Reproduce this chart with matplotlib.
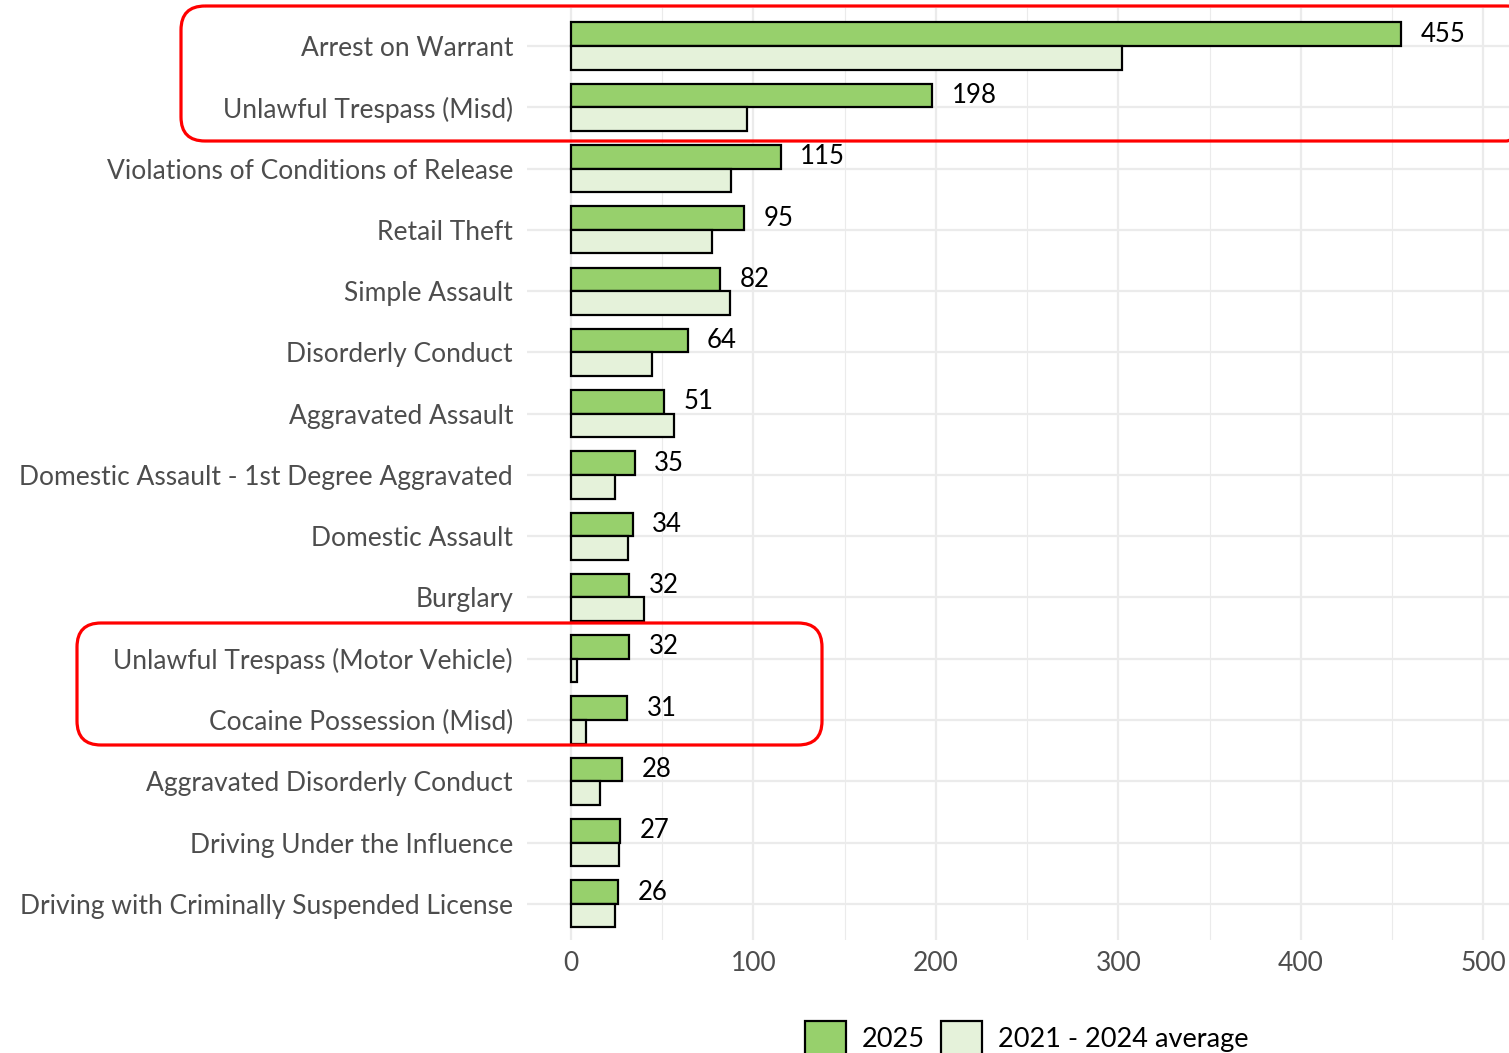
import numpy as np
import matplotlib
matplotlib.use("Agg")
import matplotlib.pyplot as plt
from matplotlib.patches import FancyBboxPatch, Patch

plt.rcParams['font.family'] = ['Lato', 'DejaVu Sans']

# Offence categories, top to bottom
categories = [
    "Arrest on Warrant",
    "Unlawful Trespass (Misd)",
    "Violations of Conditions of Release",
    "Retail Theft",
    "Simple Assault",
    "Disorderly Conduct",
    "Aggravated Assault",
    "Domestic Assault - 1st Degree Aggravated",
    "Domestic Assault",
    "Burglary",
    "Unlawful Trespass (Motor Vehicle)",
    "Cocaine Possession (Misd)",
    "Aggravated Disorderly Conduct",
    "Driving Under the Influence",
    "Driving with Criminally Suspended License",
]
count_2025 = [455, 198, 115, 95, 82, 64, 51, 35, 34, 32, 32, 31, 28, 27, 26]
avg_2021_2024 = [302, 96.5, 88, 77.25, 87, 44.25, 56.5, 24, 31.25, 40, 3.25, 8.25, 16, 26.25, 24]
x_ticks = [0, 100, 200, 300, 400, 500]

GREEN = "#97D06C"
LIGHT = "#E5F2DA"
GREY_TXT = "#4D4D4D"
GRID = "#EBEBEB"

fig = plt.figure(figsize=(15.09, 10.53), dpi=100)
ax = fig.add_axes([527 / 1509, 1 - 940 / 1053, 1 - 527 / 1509, (940 - 8) / 1053])

y = np.arange(len(categories))
h = 0.385
ax.barh(y - h / 2, count_2025, height=h, color=GREEN, edgecolor="black", linewidth=1.6, zorder=3)
ax.barh(y + h / 2, avg_2021_2024, height=h, color=LIGHT, edgecolor="black", linewidth=1.6, zorder=3)

for yi, v in zip(y, count_2025):
    ax.annotate(str(v), (v, yi - h / 2), xytext=(14, 0), textcoords="offset points",
                va="center", ha="left", fontsize=18.5, color="black")

ax.set_xlim(-24, 514)
ax.set_ylim(len(categories) - 1 + 0.59, -0.62)
ax.set_yticks(y)
ax.set_yticklabels(categories)
ax.set_xticks(x_ticks)
ax.set_xticks([50, 150, 250, 350, 450], minor=True)
ax.tick_params(axis="both", which="both", length=0, labelsize=19, labelcolor=GREY_TXT)
ax.tick_params(axis="y", pad=10)
ax.tick_params(axis="x", pad=8)
ax.grid(True, which="major", color=GRID, linewidth=1.6, zorder=0)
ax.grid(True, which="minor", axis="x", color=GRID, linewidth=0.8, zorder=0)
ax.set_axisbelow(True)
for s in ax.spines.values():
    s.set_visible(False)

handles = [Patch(facecolor=GREEN, edgecolor="black", linewidth=1.6, label="2025"),
           Patch(facecolor=LIGHT, edgecolor="black", linewidth=1.6, label="2021 - 2024 average")]
fig.legend(handles=handles, loc="center", bbox_to_anchor=(1027 / 1509, 1 - 1038 / 1053),
           ncol=2, frameon=False, fontsize=19.5, handlelength=1.5, handleheight=1.6,
           handletextpad=0.6, columnspacing=0.6)

# red highlight boxes (pixel-coordinate overlay)
ov = fig.add_axes([0, 0, 1, 1], facecolor="none")
ov.set_xlim(0, 1509)
ov.set_ylim(1053, 0)
ov.axis("off")
for x0, y0, x1, y1 in [(181, 6, 1530, 141), (77, 623, 822, 745)]:
    ov.add_patch(FancyBboxPatch((x0, y0), x1 - x0, y1 - y0,
                                boxstyle="round,pad=0,rounding_size=24",
                                facecolor="none", edgecolor="#FF0000", linewidth=2.3))

fig.savefig("out.png", dpi=100)
